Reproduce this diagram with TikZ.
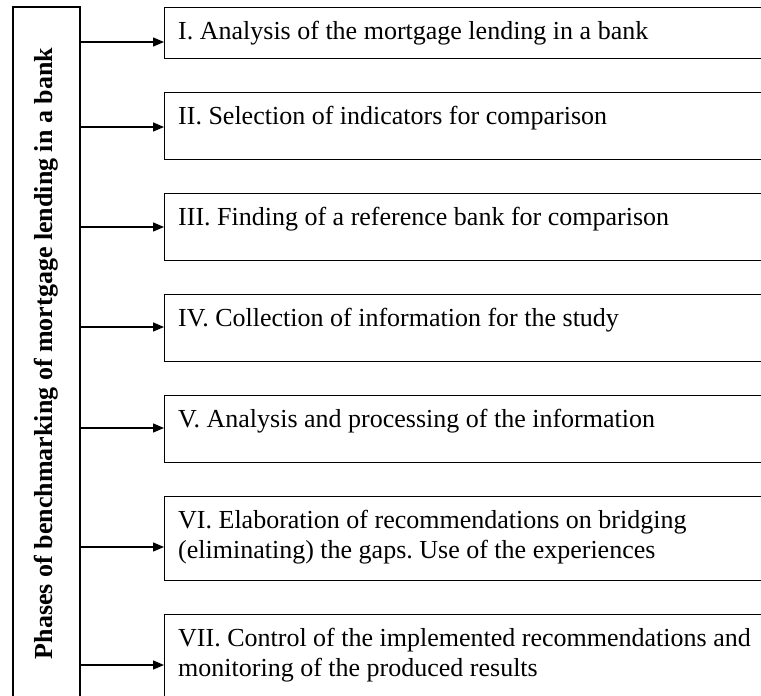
\documentclass[tikz,border=0pt]{standalone}
\usepackage{fontspec}
\setmainfont{Liberation Serif}
\usetikzlibrary{arrows.meta,calc}
\frenchspacing
\newcommand{\phasetext}[2]{\parbox[c][#1][t]{700pt}{\raggedright\frenchspacing\rule{0pt}{32pt}#2}}
\tikzset{
  phasebox/.style={draw=black, line width=1.4pt, inner xsep=13.5pt, inner ysep=0pt,
    anchor=north west, font=\fontsize{26}{30}\selectfont},
  sidebox/.style={draw=black, line width=1.4pt, rotate=90, minimum width=693pt,
    minimum height=67pt, inner sep=0pt, font=\fontsize{26}{30}\selectfont\bfseries},
  arr/.style={line width=1.4pt, -{Triangle[length=11pt,width=9pt]}}
}
\begin{document}
\begin{tikzpicture}[x=1pt,y=-1pt]
\useasboundingbox (0,0) rectangle (761,696);
\clip (0,0) rectangle (761,696);
\node[sidebox] (L) at (46.5,353.5) {Phases of benchmarking of mortgage lending in a bank};
\node[phasebox] (b1) at (164,7) {\phasetext{51pt}{I. Analysis of the mortgage lending in a bank}};
\node[phasebox] (b2) at (164,92) {\phasetext{67pt}{II. Selection of indicators for comparison}};
\node[phasebox] (b3) at (164,193) {\phasetext{67pt}{III. Finding of a reference bank for comparison}};
\node[phasebox] (b4) at (164,294) {\phasetext{67pt}{IV. Collection of information for the study}};
\node[phasebox] (b5) at (164,395) {\phasetext{67pt}{V. Analysis and processing of the information}};
\node[phasebox] (b6) at (164,496) {\phasetext{84pt}{VI. Elaboration of recommendations on bridging\\(eliminating) the gaps. Use of the experiences}};
\node[phasebox] (b7) at (164,614) {\phasetext{84pt}{VII. Control of the implemented recommendations and\\monitoring of the produced results}};
\foreach \b/\d in {b1/35,b2/35,b3/34,b4/33,b5/33,b6/51,b7/51}{
  \draw[arr] (L.south |- {$(\b.north west)+(0,\d)$}) -- ($(\b.north west)+(0,\d)$);
}
\end{tikzpicture}
\end{document}
